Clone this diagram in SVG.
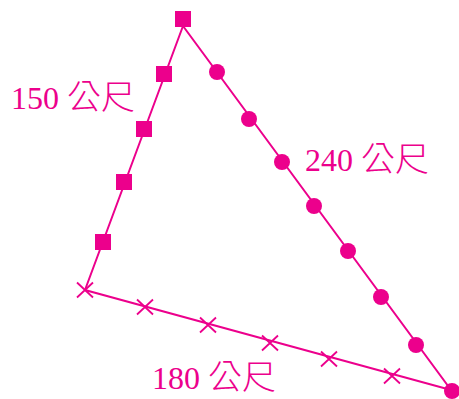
<svg xmlns="http://www.w3.org/2000/svg" width="459" height="399" viewBox="0 0 459 399">
<style>
.ln{stroke:#EC008C;stroke-width:2;fill:none}
.x{stroke:#EC008C;stroke-width:1.8;fill:none}
.sq,.dot{fill:#EC008C}
.lbl{fill:#EC008C;font-family:"Liberation Serif","Noto Sans CJK TC",serif;font-size:32px}
.cjk{font-family:"Noto Sans CJK TC","Noto Sans CJK SC",sans-serif;font-weight:300;font-size:34px}
</style>
<defs>
<rect id="sqm" x="-8" y="-8" width="16" height="16"/>
<path id="xm" d="M-8,-7.5L8,7.5M-8,7.5L8,-7.5"/>
</defs>
<g id="connectors">
<path class="ln" d="M85,290L183,26L451,390Z"/>
</g>
<g id="squares" class="sq">
<use href="#sqm" x="183" y="19"/>
<use href="#sqm" x="164" y="74"/>
<use href="#sqm" x="144" y="129"/>
<use href="#sqm" x="124" y="182"/>
<use href="#sqm" x="103" y="242"/>
</g>
<g id="circles" class="dot">
<circle cx="217" cy="72" r="8"/>
<circle cx="249" cy="119" r="8"/>
<circle cx="282" cy="162" r="8"/>
<circle cx="314" cy="206" r="8"/>
<circle cx="348" cy="251" r="8"/>
<circle cx="381" cy="297" r="8"/>
<circle cx="416" cy="345" r="8"/>
<circle cx="452" cy="391" r="8"/>
</g>
<g id="crosses" class="x">
<use href="#xm" x="85" y="290"/>
<use href="#xm" x="145" y="307"/>
<use href="#xm" x="208" y="325"/>
<use href="#xm" x="270" y="343"/>
<use href="#xm" x="329" y="359"/>
<use href="#xm" x="392" y="376"/>
</g>
<g id="label-150"><text class="lbl" x="11" y="109">150 <tspan class="cjk">公尺</tspan></text></g>
<g id="label-240"><text class="lbl" x="305" y="171">240 <tspan class="cjk">公尺</tspan></text></g>
<g id="label-180"><text class="lbl" x="152" y="389">180 <tspan class="cjk">公尺</tspan></text></g>
</svg>
